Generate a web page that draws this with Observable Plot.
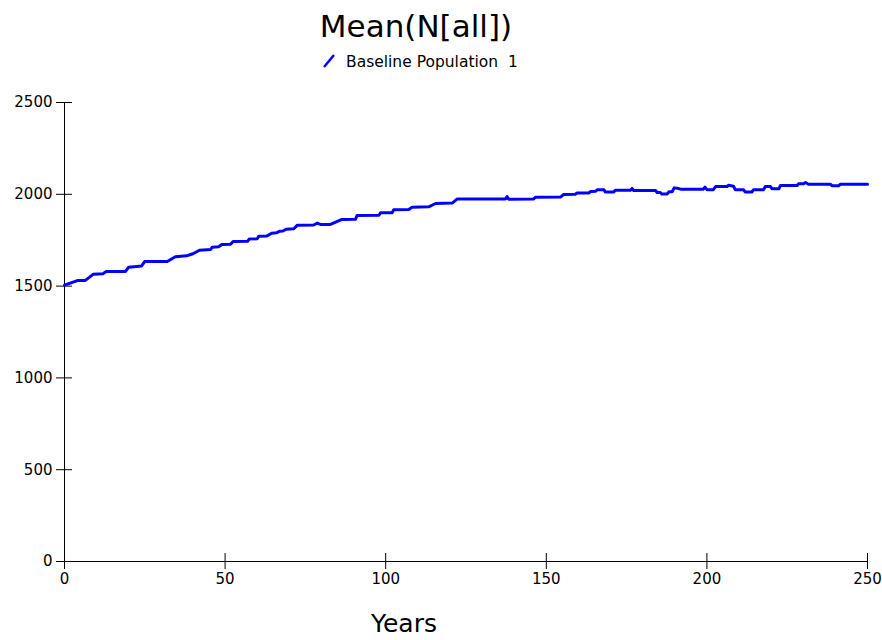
<!DOCTYPE html>
<html><head><meta charset="utf-8">
<script src="https://cdn.jsdelivr.net/npm/d3@7"></script>
<script src="https://cdn.jsdelivr.net/npm/@observablehq/plot@0.6"></script>
<style>body{margin:0;background:#fff}</style>
</head><body><div id="chart"></div>
<script>
const titleText = "Mean(N[all])";
const seriesName = "Baseline Population  1";
const xLabelText = "Years";
const xTicks = [0, 50, 100, 150, 200, 250];
const yTicks = [0, 500, 1000, 1500, 2000, 2500];
const years = [0, 2, 4, 6.5, 9, 12, 13, 19, 20, 24, 25, 32, 34.5, 38, 40, 42, 45.5, 46, 48, 49, 51.7, 52.5, 57, 57.5, 60, 60.5, 63, 64.5, 66, 67, 68, 69, 71.4, 72.5, 77.6, 78.7, 79.7, 82.8, 86.4, 90.6, 91.1, 97.9, 98.4, 102, 102.5, 107.2, 108.2, 113.4, 115.5, 120.7, 122.3, 137.3, 137.8, 138.3, 146, 146.6, 154.4, 155.4, 159, 159.6, 163.2, 163.8, 165.3, 165.9, 167.9, 168.4, 171, 171.5, 176.2, 176.7, 177.2, 184, 184.5, 185.5, 186, 187.6, 188.2, 189.2, 189.8, 190.8, 191.8, 198.9, 199.4, 200, 202, 202.7, 206.3, 206.7, 208.3, 208.8, 211.4, 212, 214, 214.5, 217.6, 218.2, 219.8, 220.3, 222.4, 222.9, 228.1, 228.5, 230, 230.7, 231.6, 238.5, 239, 241, 241.6, 250];
const values = [1505, 1518, 1530, 1531, 1565, 1567, 1580, 1580, 1603, 1610, 1634, 1634, 1660, 1665, 1676, 1695, 1700, 1712, 1714, 1727, 1728, 1743, 1744, 1756, 1758, 1772, 1773, 1788, 1790, 1799, 1800, 1810, 1812, 1832, 1833, 1843, 1836, 1836, 1863, 1864, 1885, 1886, 1899, 1900, 1916, 1917, 1930, 1932, 1950, 1952, 1975, 1975, 1988, 1973, 1974, 1984, 1985, 1999, 2000, 2007, 2007, 2015, 2016, 2025, 2025, 2012, 2012, 2022, 2022, 2032, 2021, 2021, 2010, 2010, 2001, 2001, 2014, 2014, 2035, 2033, 2028, 2028, 2039, 2025, 2025, 2042, 2042, 2049, 2044, 2025, 2025, 2012, 2012, 2025, 2025, 2042, 2042, 2030, 2030, 2048, 2048, 2057, 2057, 2064, 2055, 2055, 2046, 2046, 2055, 2055];

const data = years.map((y, i) => ({year: y, value: values[i]}));

function annotations() {
  const g = d3.create("svg:g").attr("font-family", "DejaVu Sans").attr("fill", "#000");
  g.append("text").attr("x", 416).attr("y", 37).attr("text-anchor", "middle")
    .attr("font-size", 31).text(titleText);
  g.append("line").attr("x1", 324).attr("y1", 67).attr("x2", 334).attr("y2", 55)
    .attr("stroke", "#0000ff").attr("stroke-width", 2.5);
  g.append("text").attr("x", 346).attr("y", 67).attr("text-anchor", "start").attr("font-size", 15.5)
    .attr("xml:space", "preserve").style("white-space", "pre").text(seriesName);
  g.append("text").attr("x", 404).attr("y", 632).attr("text-anchor", "middle")
    .attr("font-size", 25).text(xLabelText);
  return g.node();
}

const chart = Plot.plot({
  width: 882,
  height: 640,
  marginTop: 102,
  marginBottom: 79,
  marginLeft: 64,
  marginRight: 15,
  style: {fontFamily: "DejaVu Sans", fontSize: "15px", color: "#000", background: "#fff"},
  x: {domain: [0, 250]},
  y: {domain: [0, 2500]},
  marks: [
    Plot.axisY(yTicks, {tickSize: 16, dx: 8, tickPadding: 4, label: null, fontSize: 15, tickFormat: d => String(d)}),
    Plot.axisX(xTicks, {tickSize: 16, dy: -8, tickPadding: 4, label: null, fontSize: 15, tickFormat: d => String(d)}),
    Plot.ruleX([0], {stroke: "#000"}),
    Plot.ruleY([0], {stroke: "#000"}),
    Plot.line(data, {x: "year", y: "value", stroke: "#0000ff", strokeWidth: 3}),
    annotations
  ]
});
document.getElementById("chart").appendChild(chart);
</script>
</body></html>
